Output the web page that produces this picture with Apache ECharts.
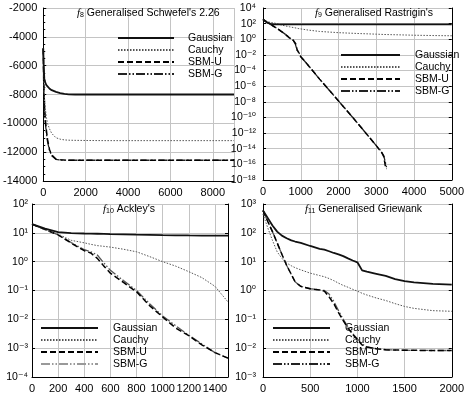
<!DOCTYPE html>
<html><head><meta charset="utf-8">
<script src="https://cdn.jsdelivr.net/npm/echarts@6/dist/echarts.min.js"></script>
<style>html,body{margin:0;padding:0;background:#fff}#c{width:467px;height:398px}</style>
</head><body><div id="c"></div>
<script>
const seriesNames = ['Gaussian', 'Cauchy', 'SBM-U', 'SBM-G'];

// Panel 1: f8 Generalised Schwefel's 2.26
const f8X        = [0, 20, 50, 100, 150, 200, 300, 400, 600, 800, 1000, 1200, 1500, 2000, 3000, 5000, 7000, 9000];
const f8Gaussian = [-4800, -6000, -6900, -7200, -7350, -7450, -7600, -7700, -7820, -7900, -7960, -7990, -8000, -8000, -8000, -8000, -8000, -8000];
const f8Cauchy   = [-4800, -6500, -8000, -9000, -9600, -10000, -10400, -10700, -11000, -11100, -11150, -11170, -11180, -11190, -11200, -11200, -11200, -11200];
const f8SBMU     = [-4800, -7000, -8600, -9800, -10500, -11100, -11850, -12200, -12480, -12530, -12550, -12560, -12560, -12560, -12560, -12560, -12560, -12560];
const f8SBMG     = [-4800, -7200, -8800, -10000, -10700, -11250, -11900, -12250, -12500, -12540, -12555, -12560, -12560, -12560, -12560, -12560, -12560, -12560];

// Panel 2: f9 Generalised Rastrigin's
const f9X        = [0, 100, 200, 300, 400, 500, 600, 700, 800, 850, 880, 900, 950, 1000, 1200, 1500, 2000, 2500, 3000, 3100, 3150, 3200, 3230, 3250, 3280, 3500, 4000, 4500, 5000];
const f9Gaussian = [350, 150, 95, 82, 80, 80, 80, 80, 80, 80, 80, 80, 80, 80, 80, 80, 80, 80, 80, 80, 80, 80, 80, 80, 80, 80, 80, 80, 80];
const f9Cauchy   = [350, 200, 140, 120, 90, 65, 50, 40, 32, 28, 27, 26, 23, 20, 15, 10, 7, 5.5, 4.5, 4.3, 4.2, 4.1, 4.1, 4.0, 4.0, 3.8, 3.3, 3.0, 2.8];
const f9SBMU     = [350, 150, 80, 40, 20, 9, 4, 1.5, 0.8, 0.5, 0.2, 0.05, 0.03, 0.006, 4.5e-4, 8e-6, 1.3e-8, 2e-11, 2.5e-14, 6e-15, 3e-15, 1e-15, 1e-15, 3e-17, 3e-17, null, null, null, null];
const f9SBMG     = [350, 150, 80, 40, 20, 9, 4, 1.6, 0.7, 0.3, 0.1, 0.04, 0.02, 0.006, 4.5e-4, 8e-6, 1.3e-8, 2e-11, 2.5e-14, 7e-15, 3e-15, 1.2e-15, 1e-15, 1e-15, 3e-17, null, null, null, null];

// Panel 3: f10 Ackley's
const f10X        = [0, 100, 200, 300, 400, 450, 500, 550, 600, 700, 800, 900, 1000, 1100, 1200, 1300, 1400, 1500];
const f10Gaussian = [20, 14, 10.5, 9.8, 9.5, 9.4, 9.3, 9.2, 9.0, 8.8, 8.6, 8.5, 8.3, 8.2, 8.1, 8.05, 8.0, 8.0];
const f10Cauchy   = [20, 13, 9, 5.5, 4.5, 4.0, 3.6, 3.4, 3.2, 2.7, 2.2, 1.5, 1.0, 0.7, 0.45, 0.28, 0.14, 0.04];
const f10SBMU     = [20, 13, 8.5, 4.4, 2.4, 2.0, 1.3, 0.7, 0.4, 0.19, 0.09, 0.03, 0.012, 0.005, 0.0027, 0.0013, 0.0007, 0.00045];
const f10SBMG     = [20, 13, 8.5, 4.6, 2.6, 2.2, 1.7, 0.9, 0.5, 0.22, 0.1, 0.035, 0.013, 0.006, 0.0028, 0.0014, 0.0007, 0.00045];

// Panel 4: f11 Generalised Griewank
const f11X        = [0, 50, 100, 150, 200, 250, 300, 340, 400, 500, 600, 650, 700, 750, 800, 850, 900, 950, 1000, 1050, 1100, 1200, 1300, 1400, 1500, 1600, 1800, 2000];
const f11Gaussian = [600, 330, 180, 110, 80, 65, 55, 50, 45, 35, 28, 26, 23, 20, 18, 15.5, 13, 11, 9.5, 5, 4.5, 3.8, 3.2, 2.5, 2.1, 1.9, 1.7, 1.6];
const f11Cauchy   = [450, 150, 55, 22, 13, 9, 7.2, 6.2, 5.2, 4, 3.3, 3, 2.6, 2.2, 1.8, 1.5, 1.3, 1.1, 0.95, 0.8, 0.7, 0.55, 0.45, 0.35, 0.28, 0.24, 0.2, 0.19];
const f11SBMU     = [600, 250, 110, 45, 18, 7.5, 3.6, 2.0, 1.4, 1.15, 1.05, 0.95, 0.6, 0.35, 0.17, 0.09, 0.05, 0.03, 0.02, 0.013, 0.011, 0.0095, 0.0088, 0.0086, 0.0085, 0.0084, 0.0083, 0.0083];
const f11SBMG     = [600, 250, 110, 45, 18, 7.5, 3.6, 2.0, 1.4, 1.15, 1.05, 1.0, 0.75, 0.42, 0.2, 0.1, 0.055, 0.032, 0.021, 0.014, 0.011, 0.0095, 0.0088, 0.0086, 0.0085, 0.0084, 0.0083, 0.0083];

const FONT = "'Liberation Sans', Arial, 'DejaVu Sans', sans-serif";

function pairs(xs, ys) { return xs.map((x, i) => [x, ys[i]]); }
const SUP = { '-': '\u207B', '0': '\u2070', '1': '\u00B9', '2': '\u00B2', '3': '\u00B3', '4': '\u2074',
              '5': '\u2075', '6': '\u2076', '7': '\u2077', '8': '\u2078', '9': '\u2079' };
function sup(s) { return String(s).split('').map(c => SUP[c] || c).join(''); }

const styles = {
  'Gaussian': { color: '#111', width: 1.8, type: 'solid' },
  'Cauchy':   { color: '#555', width: 1, type: [1.5, 1.5] },
  'SBM-U':    { color: '#000', width: 1.5, type: [6, 3] },
  'SBM-G':    { color: '#222', width: 1.3, type: [9, 2, 1.5, 2, 1.5, 2] }
};

const panels = [
  { x: f8X, ys: [f8Gaussian, f8Cauchy, f8SBMU, f8SBMG], grid: { left: 43, top: 8, width: 191, height: 173 },
    xMax: 9000, xInt: 2000, log: false, yMin: -14000, yMax: -2000, yInt: 2000, yMargin: 6, right: false },
  { x: f9X, ys: [f9Gaussian, f9Cauchy, f9SBMU, f9SBMG], grid: { left: 263, top: 8, width: 195, height: 172 },
    xMax: 5000, xInt: 1000, log: true, yMin: 1e-18, yMax: 1e4, yInt: 2, yMargin: 7, right: true },
  { x: f10X, ys: [f10Gaussian, f10Cauchy, f10SBMU, f10SBMG], grid: { left: 32, top: 204, width: 196, height: 173 },
    xMax: 1500, xInt: 200, log: true, yMin: 1e-4, yMax: 1e2, yInt: 1, yMargin: 4, right: true },
  { x: f11X, ys: [f11Gaussian, f11Cauchy, f11SBMU, f11SBMG], grid: { left: 263, top: 204, width: 196, height: 173 },
    xMax: 2000, xInt: 500, log: true, yMin: 1e-3, yMax: 1e3, yInt: 1, yMargin: 7, right: true }
];

const grids = [], xAxes = [], yAxes = [], extraY = [], series = [];
panels.forEach((p, i) => {
  grids.push(Object.assign({ containLabel: false }, p.grid));
  xAxes.push({
    type: 'value', gridIndex: i, min: 0, max: p.xMax, interval: p.xInt,
    axisLine: { onZero: false, lineStyle: { color: '#000', width: 1 } },
    axisTick: { show: false },
    axisLabel: { color: '#000', fontSize: 11, fontFamily: FONT, margin: 6, hideOverlap: false,
      formatter: v => (v % p.xInt === 0 ? String(v) : '') },
    splitLine: { show: true, lineStyle: { color: '#c4c4c4', width: 1 } }
  });
  const yBase = {
    gridIndex: i,
    axisLine: { show: true, onZero: false, lineStyle: { color: '#000', width: 1 } },
    axisTick: { show: true, inside: true, length: 3, lineStyle: { color: '#000' } },
    splitLine: { show: true, lineStyle: { color: '#c4c4c4', width: 1 } }
  };
  if (p.log) {
    yAxes.push(Object.assign({}, yBase, {
      type: 'log', logBase: 10, min: p.yMin, max: p.yMax, interval: p.yInt,
      axisLabel: { color: '#000', fontSize: 10.5, lineHeight: 9, fontFamily: FONT, margin: p.yMargin,
        hideOverlap: false, showMinLabel: true, showMaxLabel: true,
        formatter: v => '10' + sup(Math.round(Math.log10(v))) }
    }));
  } else {
    yAxes.push(Object.assign({}, yBase, {
      type: 'value', min: p.yMin, max: p.yMax, interval: p.yInt,
      minorTick: { show: true, splitNumber: 4, length: 2, lineStyle: { color: '#000' } },
      axisLabel: { color: '#000', fontSize: 11, fontFamily: FONT, margin: p.yMargin, hideOverlap: false, formatter: v => String(v) }
    }));
  }
  seriesNames.forEach((name, k) => {
    const st = styles[name];
    series.push({
      name: name, type: 'line', xAxisIndex: i, yAxisIndex: i,
      data: pairs(p.x, p.ys[k]), symbol: 'none', connectNulls: false,
      lineStyle: { color: i >= 2 && name === 'SBM-G' ? '#555' : st.color, width: st.width, type: st.type },
      itemStyle: { color: st.color },
      z: 10 - k, silent: true
    });
  });
});
// right-hand frame axes for panels 2-4
panels.forEach((p, i) => {
  if (!p.right) return;
  extraY.push({
    gridIndex: i, position: 'right', type: 'log', logBase: 10, min: p.yMin, max: p.yMax, interval: p.yInt,
    axisLine: { show: true, onZero: false, lineStyle: { color: '#000', width: 1 } },
    axisTick: { show: true, inside: true, length: 3, lineStyle: { color: '#000' } },
    axisLabel: { show: false }, splitLine: { show: false }
  });
});

const titleRich = {
  f: { fontStyle: 'italic', fontFamily: 'Liberation Serif, serif', fontSize: 11, color: '#000' },
  n: { fontSize: 7, fontFamily: FONT, color: '#000', verticalAlign: 'bottom', lineHeight: 9 }
};
function mkTitle(num, txt, left, top) {
  return { text: '{f|f}{n|' + num + '} ' + txt, left: left, top: top, padding: 0,
    textStyle: { fontSize: 10.5, fontWeight: 'normal', fontFamily: FONT, color: '#000', rich: titleRich } };
}

function mkLegend(left, top, w, pad) {
  return { data: seriesNames.map(n => (left < 250 && top > 200 && n === 'SBM-G')
      ? { name: n, lineStyle: { color: '#999' } } : n),
    orient: 'vertical', left: left, top: top, padding: 0,
    itemWidth: w, itemHeight: 12, itemGap: 0, selectedMode: false,
    itemStyle: { opacity: 0, borderWidth: 0 },
    textStyle: { fontSize: 10.5, fontFamily: FONT, color: '#000', lineHeight: 12, padding: [0, 0, 0, pad] } };
}

const chart = echarts.init(document.getElementById('c'), null, { renderer: 'canvas' });
chart.setOption({
  animation: false,
  backgroundColor: '#fff',
  title: [
    mkTitle(8, "Generalised Schwefel's 2.26", 77, 8),
    mkTitle(9, "Generalised Rastrigin's", 315, 8),
    mkTitle(10, "Ackley's", 103, 204),
    mkTitle(11, 'Generalised Griewank', 305, 204)
  ],
  legend: [
    mkLegend(117, 32, 56, 9),
    mkLegend(340, 49, 59, 10),
    mkLegend(40, 322, 57, 10),
    mkLegend(272, 322, 57, 10)
  ],
  grid: grids, xAxis: xAxes, yAxis: yAxes.concat(extraY), series: series
});
</script></body></html>
